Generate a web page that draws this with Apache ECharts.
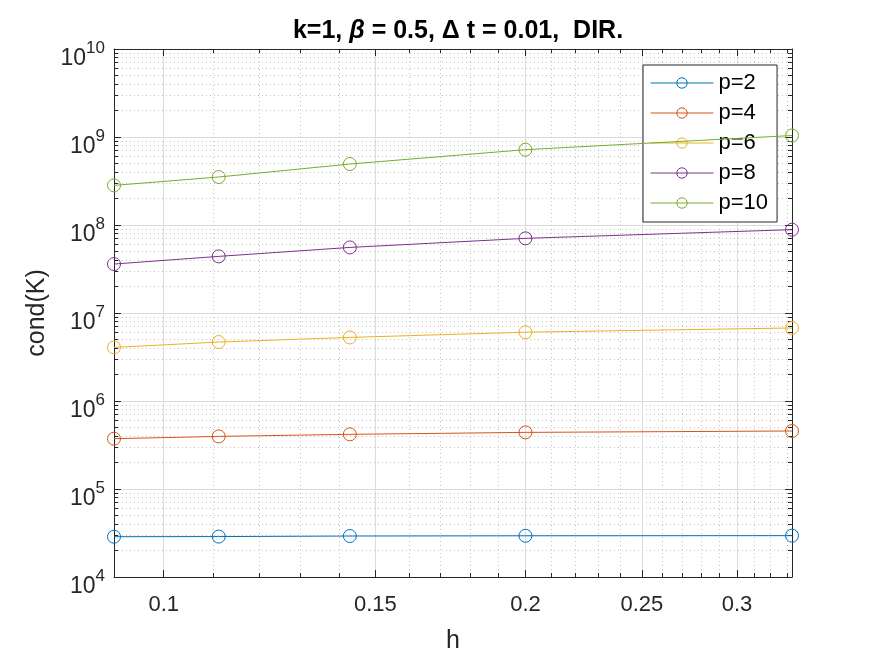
<!DOCTYPE html>
<html>
<head>
<meta charset="utf-8">
<script src="https://cdn.jsdelivr.net/npm/echarts@6/dist/echarts.min.js"></script>
<style>
  html, body { margin: 0; padding: 0; background: #fff; }
  #chart { width: 875px; height: 656px; }
</style>
</head>
<body>
<div id="chart"></div>
<script>
// h values (1/11, 1/9, 1/7, 1/5, 1/3)
const hValues = [1 / 11, 1 / 9, 1 / 7, 1 / 5, 1 / 3]
const seriesNames = ['p=2', 'p=4', 'p=6', 'p=8', 'p=10']
const condP2 = [2.87e4, 2.88e4, 2.92e4, 2.94e4, 2.95e4]
const condP4 = [3.73e5, 3.96e5, 4.18e5, 4.40e5, 4.56e5]
const condP6 = [4.06e6, 4.68e6, 5.28e6, 6.05e6, 6.76e6]
const condP8 = [3.60e7, 4.40e7, 5.56e7, 7.05e7, 8.85e7]
const condP10 = [2.82e8, 3.51e8, 4.93e8, 7.18e8, 1.04e9]

// axis ticks
const xMajorTicks = [0.1, 0.15, 0.2, 0.25, 0.3]
const xMinorTicks = [0.11, 0.12, 0.13, 0.14, 0.16, 0.17, 0.18, 0.19, 0.21, 0.22, 0.23, 0.24,
  0.26, 0.27, 0.28, 0.29, 0.31, 0.32, 0.33]
const yMajorTicks = [1e4, 1e5, 1e6, 1e7, 1e8, 1e9, 1e10]
const yMinorTicks = []
yMajorTicks.slice(0, -1).forEach(d => {
  for (let m = 2; m <= 9; m++) yMinorTicks.push(d * m)
})

const colors = ['#0072BD', '#D95319', '#EDB120', '#7E2F8E', '#77AC30']
const allCond = [condP2, condP4, condP6, condP8, condP10]

const axisColor = '#262626'
const fontFamily = 'Liberation Sans, Arial, sans-serif'

function xAxisCfg (position, ticks, major, showLabel) {
  return {
    type: 'log',
    position: position,
    min: hValues[0],
    max: hValues[hValues.length - 1],
    axisLine: { show: major, lineStyle: { color: axisColor, width: 1 } },
    axisTick: {
      show: true, inside: true, length: major ? 7 : 4, customValues: ticks,
      lineStyle: { color: axisColor, width: 1 }
    },
    axisLabel: {
      show: showLabel, customValues: ticks, margin: 17,
      color: axisColor, fontSize: 22, fontFamily: fontFamily,
      formatter: v => String(Math.round(v * 1000) / 1000)
    },
    splitLine: {
      show: position === 'bottom',
      lineStyle: major ? { color: '#dcdcdc', width: 1, type: 'solid' } : { color: '#c4c4c4', width: 1, type: [1, 3] }
    },
    minorTick: { show: false },
    name: showLabel ? 'h' : '',
    nameLocation: 'middle',
    nameGap: 52,
    nameTextStyle: { color: axisColor, fontSize: 25, fontFamily: fontFamily }
  }
}

function yAxisCfg (position, ticks, major, showLabel) {
  return {
    type: 'log',
    position: position,
    min: 1e4,
    max: 1e10,
    axisLine: { show: major, lineStyle: { color: axisColor, width: 1 } },
    axisTick: {
      show: true, inside: true, length: major ? 7 : 4, customValues: ticks,
      lineStyle: { color: axisColor, width: 1 }
    },
    axisLabel: {
      show: showLabel, customValues: ticks, margin: 9,
      padding: [12, 0, 0, 0],
      formatter: v => '{b|10}{e|' + Math.round(Math.log10(v)) + '}',
      rich: {
        b: { fontSize: 23, lineHeight: 30, color: axisColor, fontFamily: fontFamily, verticalAlign: 'bottom' },
        e: { fontSize: 17, lineHeight: 17, color: axisColor, fontFamily: fontFamily, verticalAlign: 'top' }
      }
    },
    splitLine: {
      show: position === 'left',
      lineStyle: major ? { color: '#dcdcdc', width: 1, type: 'solid' } : { color: '#c4c4c4', width: 1, type: [1, 3] }
    },
    minorTick: { show: false },
    name: showLabel ? 'cond(K)' : '',
    nameLocation: 'middle',
    nameGap: 64,
    nameTextStyle: { color: axisColor, fontSize: 25, fontFamily: fontFamily }
  }
}

const series = seriesNames.map((name, i) => ({
  name: name,
  type: 'line',
  xAxisIndex: 0,
  yAxisIndex: 0,
  data: hValues.map((h, j) => [h, allCond[i][j]]),
  symbol: 'circle',
  symbolSize: 13,
  clip: false,
  z: 10,
  lineStyle: { color: colors[i], width: 1 },
  itemStyle: { color: 'rgba(255,255,255,0)', borderColor: colors[i], borderWidth: 1 },
  emphasis: { disabled: true }
}))

const chart = echarts.init(document.getElementById('chart'), null, { renderer: 'canvas' })
chart.setOption({
  backgroundColor: '#ffffff',
  animation: false,
  title: {
    text: '{t|k=1, }{g|β}{t| = 0.5, Δ t = 0.01,  DIR.}',
    left: 453,
    textAlign: 'center',
    top: 14,
    textStyle: {
      rich: {
        t: { fontSize: 25, fontWeight: 'bold', color: '#000', fontFamily: fontFamily },
        g: { fontSize: 25, fontStyle: 'italic', color: '#000', fontFamily: fontFamily }
      }
    }
  },
  grid: { left: 114, right: 83, top: 49, bottom: 79, containLabel: false, outerBoundsMode: 'none' },
  legend: {
    orient: 'vertical',
    left: 643,
    top: 65,
    padding: [7, 9, 8, 7],
    itemWidth: 63,
    itemHeight: 13,
    itemGap: 8,
    backgroundColor: '#fff',
    borderColor: '#262626',
    borderWidth: 1,
    lineStyle: { width: 1 },
    itemStyle: { borderWidth: 1 },
    textStyle: { color: '#000', fontSize: 22, lineHeight: 22, fontFamily: fontFamily },
    data: seriesNames
  },
  xAxis: [
    xAxisCfg('bottom', xMajorTicks, true, true),
    xAxisCfg('bottom', xMinorTicks, false, false),
    xAxisCfg('top', xMajorTicks, true, false),
    xAxisCfg('top', xMinorTicks, false, false)
  ],
  yAxis: [
    yAxisCfg('left', yMajorTicks, true, true),
    yAxisCfg('left', yMinorTicks, false, false),
    yAxisCfg('right', yMajorTicks, true, false),
    yAxisCfg('right', yMinorTicks, false, false)
  ],
  series: series
})
</script>
</body>
</html>
